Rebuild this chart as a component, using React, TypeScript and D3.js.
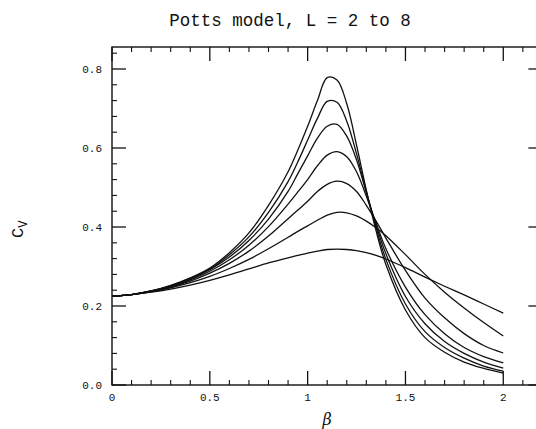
import React from "react";
import * as d3 from "d3";

const beta = [0, 0.1, 0.2, 0.3, 0.4, 0.5, 0.6, 0.7, 0.8, 0.9, 0.95, 1.0, 1.05, 1.1, 1.15, 1.2, 1.25, 1.3, 1.35, 1.4, 1.5, 1.6, 1.7, 1.8, 1.9, 2.0];

const cvL2 = [0.225, 0.229, 0.235, 0.243, 0.253, 0.265, 0.279, 0.294, 0.309, 0.322, 0.328, 0.334, 0.339, 0.343, 0.344, 0.343, 0.34, 0.335, 0.328, 0.319, 0.297, 0.273, 0.25, 0.228, 0.205, 0.182];
const cvL3 = [0.225, 0.229, 0.236, 0.246, 0.259, 0.275, 0.295, 0.318, 0.345, 0.374, 0.389, 0.403, 0.417, 0.43, 0.437, 0.436, 0.428, 0.415, 0.398, 0.378, 0.33, 0.28, 0.235, 0.195, 0.158, 0.124];
const cvL4 = [0.225, 0.229, 0.237, 0.248, 0.263, 0.283, 0.308, 0.339, 0.377, 0.421, 0.443, 0.465, 0.49, 0.508, 0.516, 0.51, 0.49, 0.455, 0.415, 0.372, 0.29, 0.22, 0.17, 0.13, 0.1, 0.081];
const cvL5 = [0.225, 0.229, 0.237, 0.249, 0.266, 0.288, 0.317, 0.354, 0.401, 0.458, 0.489, 0.52, 0.555, 0.582, 0.591, 0.578, 0.54, 0.478, 0.41, 0.345, 0.248, 0.178, 0.13, 0.095, 0.072, 0.056];
const cvL6 = [0.225, 0.229, 0.238, 0.25, 0.268, 0.292, 0.324, 0.366, 0.42, 0.49, 0.535, 0.58, 0.625, 0.655, 0.66, 0.63, 0.57, 0.487, 0.405, 0.332, 0.224, 0.155, 0.11, 0.08, 0.058, 0.043];
const cvL7 = [0.225, 0.229, 0.238, 0.251, 0.27, 0.294, 0.33, 0.375, 0.437, 0.515, 0.565, 0.62, 0.675, 0.718, 0.716, 0.668, 0.585, 0.49, 0.398, 0.318, 0.205, 0.135, 0.095, 0.068, 0.048, 0.035];
const cvL8 = [0.225, 0.229, 0.238, 0.252, 0.271, 0.296, 0.335, 0.385, 0.455, 0.54, 0.595, 0.655, 0.72, 0.778, 0.772, 0.712, 0.607, 0.493, 0.39, 0.305, 0.19, 0.12, 0.083, 0.058, 0.042, 0.03];

const series = [cvL2, cvL3, cvL4, cvL5, cvL6, cvL7, cvL8];

const xMajor = [0, 0.5, 1, 1.5, 2];
const xLabels = ["0", "0.5", "1", "1.5", "2"];
const yMajor = [0, 0.2, 0.4, 0.6, 0.8];
const yLabels = ["0.0", "0.2", "0.4", "0.6", "0.8"];

const titleText = "Potts model, L = 2 to 8";

export default function App() {
  const W = 536;
  const H = 429;
  const left = 112, right = 542.4, top = 47, bottom = 385;
  const x = d3.scaleLinear().domain([0, 2.2]).range([left, right]);
  const y = d3.scaleLinear().domain([0, 0.8557]).range([bottom, top]);

  const line = d3
    .line<number>()
    .x((_, i) => x(beta[i]))
    .y((d) => y(d))
    .curve(d3.curveCatmullRom.alpha(0.5));

  const xMinor = d3.range(0, 2.2001, 0.1).filter((v) => !xMajor.some((m) => Math.abs(m - v) < 1e-6));
  const yMinor = d3.range(0, 0.8557, 0.04).filter((v) => !yMajor.some((m) => Math.abs(m - v) < 1e-6));

  const major = 14;
  const minor = 5;
  const tickFont = "'Liberation Mono', 'DejaVu Sans Mono', monospace";

  return (
    <svg
      width={W}
      height={H}
      style={{ position: "absolute", left: 0, top: 0, background: "#fff" }}
    >
      <rect x={0} y={0} width={W} height={H} fill="#fff" />
      <text x={290} y={26} textAnchor="middle" fontFamily={tickFont} fontSize={17.5} fill="#111">
        {titleText}
      </text>

      {/* frame */}
      <rect x={left} y={top} width={right - left} height={bottom - top} fill="none" stroke="#111" strokeWidth={1.4} />

      {/* x ticks bottom and top */}
      {xMajor.map((v) => (
        <g key={"xm" + v}>
          <line x1={x(v)} x2={x(v)} y1={bottom} y2={bottom - major} stroke="#111" strokeWidth={1.3} />
          <line x1={x(v)} x2={x(v)} y1={top} y2={top + major} stroke="#111" strokeWidth={1.3} />
        </g>
      ))}
      {xMinor.map((v) => (
        <g key={"xn" + v}>
          <line x1={x(v)} x2={x(v)} y1={bottom} y2={bottom - minor} stroke="#111" strokeWidth={1.1} />
          <line x1={x(v)} x2={x(v)} y1={top} y2={top + minor} stroke="#111" strokeWidth={1.1} />
        </g>
      ))}
      {/* y ticks left and right */}
      {yMajor.map((v) => (
        <g key={"ym" + v}>
          <line x1={left} x2={left + major} y1={y(v)} y2={y(v)} stroke="#111" strokeWidth={1.3} />
          <line x1={right} x2={right - major} y1={y(v)} y2={y(v)} stroke="#111" strokeWidth={1.3} />
        </g>
      ))}
      {yMinor.map((v) => (
        <g key={"yn" + v}>
          <line x1={left} x2={left + minor} y1={y(v)} y2={y(v)} stroke="#111" strokeWidth={1.1} />
          <line x1={right} x2={right - minor} y1={y(v)} y2={y(v)} stroke="#111" strokeWidth={1.1} />
        </g>
      ))}

      {/* tick labels */}
      {xMajor.map((v, i) => (
        <text key={"xl" + v} x={x(v)} y={401} textAnchor="middle" fontFamily={tickFont} fontSize={11} fill="#111">
          {xLabels[i]}
        </text>
      ))}
      {yMajor.map((v, i) => (
        <text key={"yl" + v} x={102} y={y(v) + 4} textAnchor="end" fontFamily={tickFont} fontSize={11} fill="#111">
          {yLabels[i]}
        </text>
      ))}

      {/* axis titles */}
      <text x={327} y={425} textAnchor="middle" fontFamily="'DejaVu Serif', serif" fontStyle="italic" fontSize={16} fill="#111">
        β
      </text>
      <text transform="translate(23,238) rotate(-90)" fontFamily="'Liberation Mono', monospace" fontSize={17} fill="#111">
        C<tspan fontSize={12} dy={4}>V</tspan>
      </text>

      {/* curves */}
      {series.map((s, i) => (
        <path key={"s" + i} d={line(s) || ""} fill="none" stroke="#111" strokeWidth={1.3} />
      ))}
    </svg>
  );
}
